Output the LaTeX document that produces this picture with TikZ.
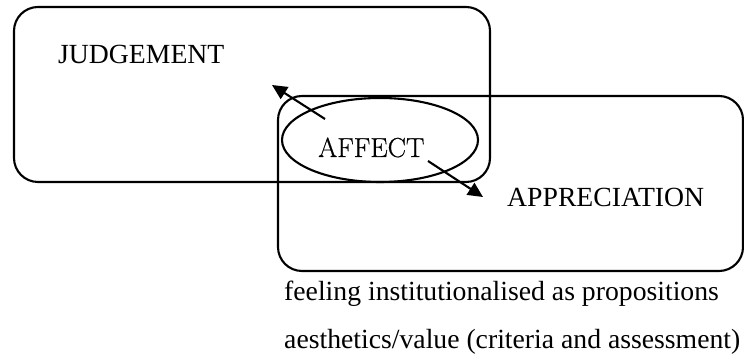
\documentclass[tikz,border=0pt]{standalone}
\usepackage{fontspec}
\newfontfamily\timesf{Liberation Serif}
\newfontfamily\lmf[FakeBold=0.6]{Latin Modern Roman}
\usetikzlibrary{arrows.meta,shapes.geometric}
\begin{document}
\begin{tikzpicture}[x=1pt,y=1pt,
  region/.style={draw=black,line width=2.1pt,rounded corners=24pt},
  lbl/.style={inner sep=0pt,anchor=base west,font=\timesf\fontsize{27.7}{30}\selectfont},
  conn/.style={line width=2.1pt,-{Triangle[length=15pt,width=14pt]}}]
\useasboundingbox (0,0) rectangle (744,358);
\draw[region] (14,351) rectangle (490,176);
\draw[region] (278,262) rectangle (743,87);
\node[draw=black,line width=2.1pt,ellipse,minimum width=196pt,minimum height=84pt,inner sep=0pt] (aff) at (380,218) {};
\node[inner sep=0pt,anchor=base west,font=\lmf\fontsize{27.5}{30}\selectfont] (afft) at (318,201) {AFFECT};
\node[lbl] (jud) at (58,294) {JUDGEMENT};
\node[lbl] (app) at (507,151) {APPRECIATION};
\node[lbl] (t1) at (284,57) {feeling institutionalised as propositions};
\node[lbl] (t2) at (284,9) {aesthetics/value (criteria and assessment)};
\coordinate (s1) at (325,239);
\coordinate (e1) at (272,273);
\coordinate (s2) at (428,197);
\coordinate (e2) at (483,161);
\draw[conn] (s1) -- (e1);
\draw[conn] (s2) -- (e2);
\end{tikzpicture}
\end{document}
